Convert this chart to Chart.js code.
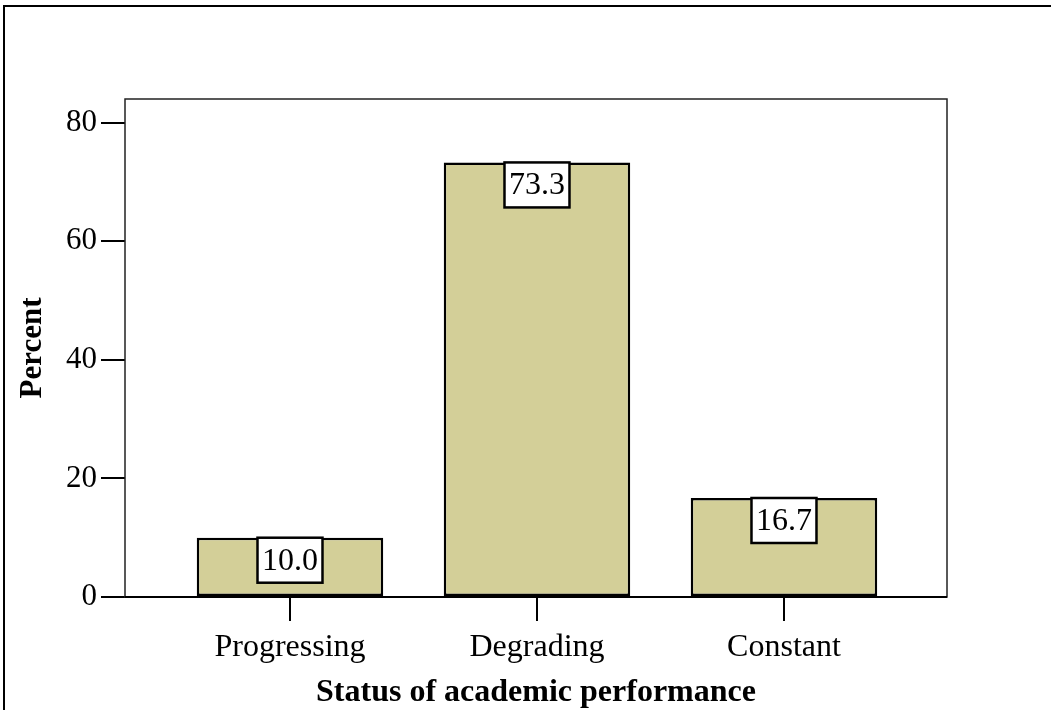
<!DOCTYPE html>
<html>
<head>
<meta charset="utf-8">
<script src="https://cdn.jsdelivr.net/npm/chart.js@4.4.0/dist/chart.umd.min.js"></script>
<style>
  html, body { margin: 0; padding: 0; background: #fff; }
  #wrap { width: 1051px; height: 710px; position: relative; }
</style>
</head>
<body>
<div id="wrap"><canvas id="chart"></canvas></div>
<script>
const categories = ["Progressing", "Degrading", "Constant"];
const percents = [10.0, 73.3, 16.7];
const yTicks = [0, 20, 40, 60, 80];

const serif = "'Liberation Serif', 'Times New Roman', serif";

// categories sit at 1, 2, 3 on a linear axis so the outer gaps match the original
const points = percents.map((v, i) => ({ x: i + 1, y: v }));

// white page + the cropped outer frame (left and top edges only)
const pageFrame = {
    id: "pageFrame",
    beforeDraw(chart) {
        const c = chart.ctx;
        c.save();
        c.fillStyle = "#fff";
        c.fillRect(0, 0, chart.width, chart.height);
        c.strokeStyle = "#000";
        c.lineWidth = 2;
        c.beginPath();
        c.moveTo(4, chart.height);
        c.lineTo(4, 6);
        c.lineTo(chart.width, 6);
        c.stroke();
        c.restore();
    }
};

// box round the plot area and the value boxes on the bars
const plotBox = {
    id: "plotBox",
    afterDatasetsDraw(chart) {
        const c = chart.ctx;
        const a = chart.chartArea;
        c.save();
        c.strokeStyle = "#222";
        c.lineWidth = 1.5;
        c.strokeRect(a.left, a.top, a.right - a.left, a.bottom - a.top);
        c.strokeStyle = "#000";
        c.lineWidth = 2;
        c.beginPath();
        c.moveTo(a.left, a.bottom);
        c.lineTo(a.right, a.bottom);
        c.stroke();

        c.font = "32px " + serif;
        c.textAlign = "center";
        c.textBaseline = "middle";
        const meta = chart.getDatasetMeta(0);
        meta.data.forEach((bar, i) => {
            const txt = percents[i].toFixed(1);
            const w = c.measureText(txt).width + 9;
            const h = 45;
            c.fillStyle = "#fff";
            c.fillRect(bar.x - w / 2, bar.y, w, h);
            c.strokeStyle = "#000";
            c.lineWidth = 2.5;
            c.strokeRect(bar.x - w / 2, bar.y, w, h);
            c.fillStyle = "#000";
            c.fillText(txt, bar.x, bar.y + h / 2 + 1);
        });
        c.restore();
    }
};

new Chart(document.getElementById("chart"), {
    type: "bar",
    data: {
        datasets: [{
            data: points,
            backgroundColor: "#d3cf98",
            borderColor: "#000",
            borderWidth: 2.5,
            borderSkipped: false,
            categoryPercentage: 1,
            barPercentage: 0.755
        }]
    },
    options: {
        responsive: true,
        maintainAspectRatio: false,
        animation: false,
        layout: {
            padding: { left: 0, top: 99, right: 104, bottom: 0 }
        },
        plugins: {
            legend: { display: false },
            tooltip: { enabled: false }
        },
        scales: {
            x: {
                type: "linear",
                min: 0.332,
                max: 3.66,
                offset: false,
                afterBuildTicks(scale) {
                    scale.ticks = categories.map((c, i) => ({ value: i + 1 }));
                },
                grid: {
                    offset: false,
                    drawOnChartArea: false,
                    drawTicks: true,
                    tickLength: 24,
                    color: "#000",
                    lineWidth: 2
                },
                border: { display: false },
                ticks: {
                    color: "#000",
                    padding: 7,
                    font: { family: serif, size: 32 },
                    callback: (v) => categories[v - 1]
                },
                title: {
                    display: true,
                    text: "Status of academic performance",
                    color: "#000",
                    font: { family: serif, size: 32, weight: "bold", lineHeight: 1 },
                    padding: { top: 0, bottom: 1 }
                },
                afterFit(scale) { scale.height = 113; }
            },
            y: {
                min: 0,
                max: 84,
                afterBuildTicks(scale) {
                    scale.ticks = yTicks.map(v => ({ value: v }));
                },
                grid: {
                    drawOnChartArea: false,
                    drawTicks: true,
                    tickLength: 24,
                    color: "#000",
                    lineWidth: 2
                },
                border: { display: false },
                ticks: {
                    color: "#000",
                    padding: 4,
                    font: { family: serif, size: 31 }
                },
                title: {
                    display: true,
                    text: "Percent",
                    color: "#000",
                    font: { family: serif, size: 31, weight: "bold", lineHeight: 1 },
                    padding: { top: 17, bottom: 0 }
                },
                afterFit(scale) { scale.width = 125; }
            }
        }
    },
    plugins: [pageFrame, plotBox]
});
</script>
</body>
</html>
